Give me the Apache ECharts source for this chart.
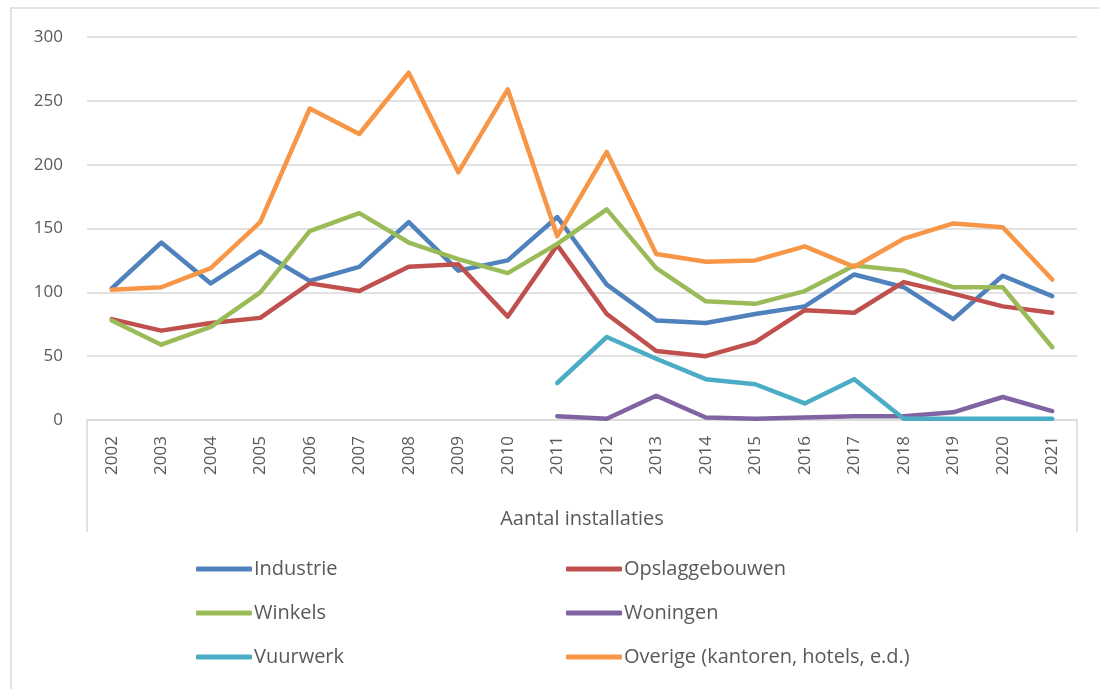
<!DOCTYPE html>
<html>
<head>
<meta charset="utf-8">
<script src="https://cdn.jsdelivr.net/npm/echarts@6/dist/echarts.min.js"></script>
<style>
  html, body { margin: 0; padding: 0; background: #fff; }
  #chart { width: 1099px; height: 689px; }
</style>
</head>
<body>
<div id="chart"></div>
<script>
const years = ['2002', '2003', '2004', '2005', '2006', '2007', '2008', '2009', '2010', '2011',
  '2012', '2013', '2014', '2015', '2016', '2017', '2018', '2019', '2020', '2021']

const industrie = [103, 139, 107, 132, 109, 120, 155, 117, 125, 159, 106, 78, 76, 83, 89, 114, 104, 79, 113, 97]
const opslaggebouwen = [79, 70, 76, 80, 107, 101, 120, 122, 81, 137, 83, 54, 50, 61, 86, 84, 108, 99, 89, 84]
const winkels = [78, 59, 73, 100, 148, 162, 139, 126, 115, 138, 165, 119, 93, 91, 101, 121, 117, 104, 104, 57]
const woningen = [null, null, null, null, null, null, null, null, null, 3, 1, 19, 2, 1, 2, 3, 3, 6, 18, 7]
const vuurwerk = [null, null, null, null, null, null, null, null, null, 29, 65, 48, 32, 28, 13, 32, 1, 1, 1, 1]
const overige = [102, 104, 119, 155, 244, 224, 272, 194, 259, 144, 210, 130, 124, 125, 136, 120, 142, 154, 151, 110]

const seriesNames = ['Industrie', 'Opslaggebouwen', 'Winkels', 'Woningen', 'Vuurwerk', 'Overige (kantoren, hotels, e.d.)']
const seriesData = [industrie, opslaggebouwen, winkels, woningen, vuurwerk, overige]
const colors = ['#4F81BD', '#C0504D', '#9BBB59', '#8064A2', '#4BACC6', '#F79646']

const textColor = '#595959'
const lineGrey = '#D9D9D9'
const narrow = '"Liberation Sans Narrow", "Open Sans", sans-serif'

const chart = echarts.init(document.getElementById('chart'))

// grid box (Excel plot area)
const gLeft = 87, gRight = 22, gTop = 37, gBottom = 269
const axisY = 689 - gBottom

const legendBase = {
  orient: 'vertical',
  top: 554,
  itemGap: 24,
  itemWidth: 56,
  itemHeight: 5,
  icon: 'roundRect',
  textStyle: { color: textColor, fontSize: 20, fontFamily: narrow, padding: [0, 0, 0, -3] },
}

chart.setOption({
  animation: false,
  color: colors,
  grid: { left: gLeft, right: gRight, top: gTop, bottom: gBottom, containLabel: false },
  legend: [
    Object.assign({ left: 191, data: [seriesNames[0], seriesNames[2], seriesNames[4]] }, legendBase),
    Object.assign({ left: 561, data: [seriesNames[1], seriesNames[3], seriesNames[5]] }, legendBase),
  ],
  xAxis: {
    type: 'category',
    data: years,
    boundaryGap: true,
    axisLine: { show: true, lineStyle: { color: lineGrey, width: 1.5 } },
    axisTick: { show: false },
    axisLabel: {
      rotate: 90,
      margin: 16,
      color: textColor,
      fontSize: 17,
      fontFamily: '"Open Sans", sans-serif',
    },
    name: 'Aantal installaties',
    nameLocation: 'middle',
    nameGap: 89,
    nameTextStyle: { color: textColor, fontSize: 20, fontFamily: narrow },
  },
  yAxis: {
    type: 'value',
    min: 0,
    max: 300,
    interval: 50,
    axisLine: { show: false },
    axisTick: { show: false },
    axisLabel: { color: textColor, fontSize: 17, margin: 24, fontFamily: '"Open Sans", sans-serif' },
    splitLine: { lineStyle: { color: lineGrey, width: 1.5 } },
  },
  graphic: [
    // outer chart border
    { type: 'rect', shape: { x: 11, y: 8, width: 1100, height: 700 }, style: { fill: 'none', stroke: lineGrey, lineWidth: 1.5 }, silent: true },
    // category axis box sides
    { type: 'line', shape: { x1: gLeft, y1: axisY, x2: gLeft, y2: 532 }, style: { stroke: lineGrey, lineWidth: 1.5 }, silent: true },
    { type: 'line', shape: { x1: 1099 - gRight, y1: axisY, x2: 1099 - gRight, y2: 532 }, style: { stroke: lineGrey, lineWidth: 1.5 }, silent: true },
  ],
  series: seriesNames.map((name, i) => ({
    name,
    type: 'line',
    data: seriesData[i],
    symbol: 'none',
    connectNulls: false,
    lineStyle: { color: colors[i], width: 4.5, cap: 'round', join: 'round' },
    itemStyle: { color: colors[i] },
  })),
})
</script>
</body>
</html>
